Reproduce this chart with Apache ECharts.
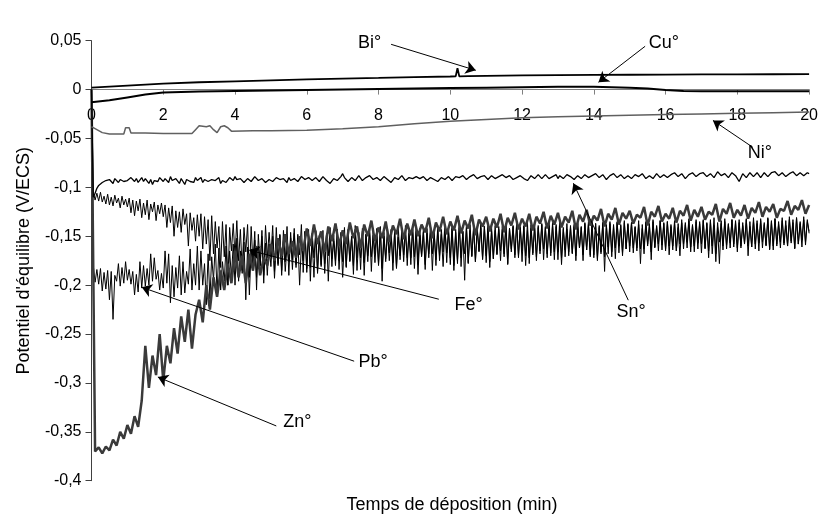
<!DOCTYPE html>
<html>
<head>
<meta charset="utf-8">
<script src="https://cdn.jsdelivr.net/npm/echarts@6/dist/echarts.min.js"></script>
<style>html,body{margin:0;padding:0;background:#fff}#c{width:821px;height:522px}</style>
</head>
<body>
<div id="c"></div>
<script>
// ---- X tick labels (min) ----
const xTicks = [0, 2, 4, 6, 8, 10, 12, 14, 16, 18, 20];

// ---- Smooth traces (time in min, potential in V/ECS) ----
const biTime = [0, 0.5, 1, 2, 3, 4, 5, 6, 7, 8, 9, 10, 10.15, 10.2, 10.25, 10.5, 11, 12, 13, 14, 15, 16, 17, 18, 19, 20];
const biValue = [0.002, 0.003, 0.004, 0.006, 0.0075, 0.0085, 0.0095, 0.0105, 0.0113, 0.012, 0.0128, 0.0134, 0.0135, 0.022, 0.0136, 0.0138, 0.014, 0.0145, 0.0148, 0.015, 0.0152, 0.0154, 0.0155, 0.0156, 0.0157, 0.0158];

const cuTime = [0, 0.5, 1, 1.5, 2, 2.5, 3, 4, 5, 6, 7, 8, 9, 10, 11, 12, 13, 14, 15, 15.5, 16, 16.5, 17, 18, 19, 20];
const cuValue = [-0.013, -0.011, -0.008, -0.005, -0.003, -0.0025, -0.002, -0.0015, -0.001, -0.0005, 0, 0.0005, 0.001, 0.0015, 0.002, 0.0025, 0.003, 0.003, 0.002, 0.001, -0.0005, -0.0015, -0.0017, -0.0017, -0.0017, -0.0017];

const niTime = [0, 0.1, 0.3, 0.5, 0.9, 0.95, 1.05, 1.1, 1.5, 2, 2.8, 2.9, 3.0, 3.2, 3.3, 3.4, 3.5, 3.6, 3.7, 3.8, 3.9, 4.5, 5, 6, 7, 8, 9, 10, 11, 12, 13, 14, 15, 16, 17, 18, 19, 20];
const niValue = [-0.038, -0.04, -0.044, -0.0455, -0.0455, -0.039, -0.039, -0.0445, -0.0445, -0.045, -0.045, -0.041, -0.037, -0.038, -0.037, -0.041, -0.044, -0.038, -0.037, -0.039, -0.0425, -0.042, -0.042, -0.0415, -0.04, -0.038, -0.035, -0.0325, -0.0305, -0.0288, -0.0278, -0.027, -0.0262, -0.0256, -0.025, -0.0243, -0.0236, -0.023];

// ---- Noisy traces Sn, Fe, Pb: one reading every 0.05 min (20 per row = 1 min) ----
const snValue = [
 0, -0.110, -0.106, -0.101, -0.098, -0.097, -0.095, -0.096, -0.093, -0.095, -0.092, -0.094, -0.096, -0.091, -0.093, -0.095, -0.092, -0.090, -0.094, -0.092,
 -0.093, -0.095, -0.090, -0.092, -0.094, -0.091, -0.095, -0.093, -0.090, -0.094, -0.091, -0.093, -0.096, -0.092, -0.097, -0.093, -0.091, -0.094, -0.090, -0.092,
 -0.094, -0.091, -0.092, -0.095, -0.089, -0.093, -0.095, -0.091, -0.093, -0.096, -0.091, -0.094, -0.097, -0.092, -0.090, -0.094, -0.092, -0.095, -0.090, -0.093,
 -0.093, -0.090, -0.095, -0.092, -0.091, -0.094, -0.096, -0.092, -0.090, -0.093, -0.093, -0.090, -0.096, -0.093, -0.092, -0.095, -0.094, -0.090, -0.091, -0.093,
 -0.089, -0.092, -0.094, -0.091, -0.092, -0.095, -0.095, -0.091, -0.091, -0.094, -0.093, -0.089, -0.090, -0.093, -0.094, -0.091, -0.092, -0.095, -0.096, -0.092,
 -0.091, -0.094, -0.093, -0.090, -0.089, -0.092, -0.094, -0.091, -0.092, -0.095, -0.090, -0.093, -0.095, -0.091, -0.091, -0.094, -0.093, -0.089, -0.090, -0.092,
 -0.092, -0.090, -0.089, -0.093, -0.094, -0.090, -0.091, -0.094, -0.093, -0.089, -0.090, -0.093, -0.092, -0.096, -0.095, -0.091, -0.090, -0.093, -0.092, -0.089,
 -0.086, -0.090, -0.091, -0.094, -0.093, -0.090, -0.089, -0.093, -0.092, -0.088, -0.090, -0.093, -0.094, -0.090, -0.091, -0.088, -0.089, -0.092, -0.093, -0.090,
 -0.090, -0.093, -0.092, -0.089, -0.088, -0.092, -0.091, -0.095, -0.094, -0.090, -0.089, -0.092, -0.092, -0.088, -0.090, -0.093, -0.093, -0.090, -0.089, -0.091,
 -0.091, -0.089, -0.088, -0.091, -0.092, -0.089, -0.090, -0.093, -0.093, -0.090, -0.089, -0.092, -0.091, -0.094, -0.094, -0.090, -0.089, -0.092, -0.091, -0.089,
 -0.090, -0.093, -0.092, -0.089, -0.088, -0.090, -0.091, -0.088, -0.089, -0.092, -0.093, -0.089, -0.090, -0.087, -0.088, -0.091, -0.092, -0.089, -0.090, -0.088,
 -0.089, -0.092, -0.091, -0.088, -0.088, -0.091, -0.092, -0.089, -0.090, -0.087, -0.087, -0.090, -0.091, -0.088, -0.089, -0.092, -0.093, -0.090, -0.090, -0.088,
 -0.088, -0.091, -0.090, -0.093, -0.092, -0.088, -0.089, -0.091, -0.091, -0.087, -0.088, -0.091, -0.090, -0.087, -0.088, -0.091, -0.092, -0.089, -0.089, -0.087,
 -0.091, -0.088, -0.088, -0.091, -0.090, -0.087, -0.086, -0.089, -0.089, -0.092, -0.091, -0.088, -0.088, -0.091, -0.090, -0.087, -0.087, -0.090, -0.091, -0.088,
 -0.089, -0.086, -0.087, -0.090, -0.090, -0.087, -0.088, -0.092, -0.092, -0.088, -0.089, -0.086, -0.087, -0.090, -0.090, -0.087, -0.088, -0.091, -0.091, -0.088,
 -0.088, -0.091, -0.090, -0.087, -0.086, -0.089, -0.089, -0.086, -0.087, -0.091, -0.091, -0.088, -0.088, -0.091, -0.090, -0.086, -0.087, -0.090, -0.089, -0.087,
 -0.087, -0.090, -0.090, -0.087, -0.088, -0.085, -0.086, -0.089, -0.089, -0.086, -0.087, -0.091, -0.091, -0.087, -0.088, -0.085, -0.086, -0.089, -0.089, -0.086,
 -0.088, -0.085, -0.086, -0.089, -0.089, -0.086, -0.087, -0.090, -0.090, -0.084, -0.085, -0.088, -0.088, -0.086, -0.087, -0.090, -0.089, -0.085, -0.086, -0.088,
 -0.088, -0.094, -0.093, -0.086, -0.087, -0.090, -0.089, -0.085, -0.086, -0.089, -0.088, -0.085, -0.087, -0.090, -0.090, -0.085, -0.086, -0.089, -0.088, -0.085,
 -0.087, -0.084, -0.085, -0.088, -0.088, -0.085, -0.086, -0.089, -0.089, -0.086, -0.087, -0.084, -0.085, -0.088, -0.088, -0.085, -0.086, -0.088, -0.087, -0.085,
 -0.086];

const feValue = [
 0, -0.104, -0.113, -0.106, -0.114, -0.105, -0.115, -0.109, -0.117, -0.107, -0.118, -0.110, -0.119, -0.108, -0.116, -0.111, -0.121, -0.109, -0.118, -0.112,
 -0.120, -0.111, -0.126, -0.113, -0.129, -0.114, -0.124, -0.112, -0.131, -0.116, -0.128, -0.113, -0.133, -0.117, -0.125, -0.115, -0.134, -0.118, -0.127, -0.116,
 -0.130, -0.118, -0.141, -0.121, -0.136, -0.119, -0.150, -0.124, -0.141, -0.125, -0.146, -0.122, -0.138, -0.127, -0.160, -0.126, -0.144, -0.131, -0.155, -0.128,
 -0.150, -0.127, -0.163, -0.130, -0.158, -0.133, -0.175, -0.129, -0.168, -0.135, -0.162, -0.140, -0.182, -0.135, -0.171, -0.138, -0.200, -0.141, -0.165, -0.137,
 -0.170, -0.134, -0.175, -0.143, -0.185, -0.141, -0.166, -0.138, -0.192, -0.140, -0.178, -0.145, -0.205, -0.148, -0.180, -0.144, -0.190, -0.139, -0.172, -0.146,
 -0.171, -0.139, -0.186, -0.141, -0.178, -0.148, -0.185, -0.144, -0.176, -0.140, -0.190, -0.146, -0.174, -0.142, -0.182, -0.148, -0.169, -0.138, -0.187, -0.145,
 -0.183, -0.143, -0.196, -0.147, -0.172, -0.145, -0.186, -0.150, -0.179, -0.144, -0.188, -0.147, -0.170, -0.141, -0.181, -0.149, -0.175, -0.143, -0.184, -0.146,
 -0.176, -0.141, -0.182, -0.143, -0.175, -0.150, -0.189, -0.139, -0.172, -0.146, -0.184, -0.142, -0.177, -0.148, -0.170, -0.140, -0.186, -0.145, -0.168, -0.142,
 -0.178, -0.140, -0.183, -0.146, -0.176, -0.142, -0.167, -0.143, -0.185, -0.145, -0.182, -0.141, -0.174, -0.147, -0.169, -0.139, -0.180, -0.144, -0.172, -0.140,
 -0.171, -0.140, -0.179, -0.142, -0.170, -0.146, -0.184, -0.142, -0.172, -0.141, -0.168, -0.145, -0.180, -0.139, -0.175, -0.143, -0.166, -0.138, -0.177, -0.141,
 -0.172, -0.139, -0.180, -0.143, -0.178, -0.134, -0.181, -0.145, -0.195, -0.140, -0.177, -0.138, -0.170, -0.142, -0.176, -0.141, -0.165, -0.137, -0.174, -0.140,
 -0.170, -0.138, -0.176, -0.141, -0.173, -0.144, -0.168, -0.140, -0.165, -0.143, -0.171, -0.137, -0.178, -0.142, -0.163, -0.139, -0.169, -0.136, -0.172, -0.140,
 -0.165, -0.139, -0.170, -0.136, -0.178, -0.142, -0.169, -0.137, -0.175, -0.141, -0.168, -0.138, -0.163, -0.140, -0.172, -0.136, -0.167, -0.139, -0.174, -0.138,
 -0.166, -0.134, -0.172, -0.141, -0.171, -0.143, -0.166, -0.139, -0.167, -0.140, -0.170, -0.137, -0.162, -0.141, -0.175, -0.136, -0.164, -0.138, -0.169, -0.135,
 -0.169, -0.137, -0.173, -0.139, -0.166, -0.136, -0.186, -0.138, -0.168, -0.137, -0.171, -0.140, -0.162, -0.135, -0.167, -0.139, -0.170, -0.136, -0.163, -0.138,
 -0.160, -0.136, -0.162, -0.141, -0.165, -0.138, -0.163, -0.142, -0.168, -0.136, -0.160, -0.139, -0.166, -0.135, -0.162, -0.140, -0.158, -0.134, -0.164, -0.137,
 -0.163, -0.135, -0.160, -0.140, -0.164, -0.137, -0.165, -0.141, -0.170, -0.136, -0.158, -0.138, -0.162, -0.134, -0.166, -0.139, -0.160, -0.135, -0.163, -0.137,
 -0.158, -0.134, -0.162, -0.136, -0.165, -0.133, -0.168, -0.139, -0.176, -0.141, -0.178, -0.137, -0.160, -0.135, -0.163, -0.138, -0.157, -0.133, -0.161, -0.136,
 -0.162, -0.136, -0.160, -0.139, -0.158, -0.133, -0.160, -0.140, -0.161, -0.135, -0.163, -0.137, -0.157, -0.134, -0.162, -0.138, -0.159, -0.132, -0.164, -0.135,
 -0.160, -0.132, -0.158, -0.138, -0.162, -0.134, -0.159, -0.139, -0.160, -0.133, -0.157, -0.136, -0.163, -0.131, -0.158, -0.137, -0.161, -0.133, -0.156, -0.135,
 -0.145];

const pbValue = [
 0, -0.180, -0.197, -0.184, -0.199, -0.183, -0.206, -0.187, -0.204, -0.185, -0.215, -0.186, -0.235, -0.190, -0.196, -0.178, -0.201, -0.182, -0.198, -0.176,
 -0.195, -0.184, -0.199, -0.186, -0.210, -0.189, -0.207, -0.176, -0.203, -0.180, -0.201, -0.183, -0.200, -0.168, -0.196, -0.172, -0.194, -0.185, -0.205, -0.188,
 -0.203, -0.165, -0.198, -0.168, -0.218, -0.180, -0.212, -0.182, -0.203, -0.170, -0.210, -0.176, -0.208, -0.186, -0.199, -0.163, -0.205, -0.178, -0.200, -0.160,
 -0.205, -0.165, -0.200, -0.178, -0.220, -0.168, -0.214, -0.171, -0.195, -0.158, -0.209, -0.162, -0.205, -0.176, -0.196, -0.160, -0.200, -0.165, -0.192, -0.158,
 -0.200, -0.152, -0.196, -0.165, -0.188, -0.156, -0.215, -0.161, -0.210, -0.163, -0.185, -0.154, -0.192, -0.160, -0.181, -0.150, -0.198, -0.157, -0.190, -0.158,
 -0.181, -0.150, -0.193, -0.158, -0.180, -0.149, -0.190, -0.154, -0.186, -0.160, -0.176, -0.152, -0.184, -0.147, -0.179, -0.152, -0.200, -0.158, -0.175, -0.145,
 -0.187, -0.150, -0.182, -0.155, -0.192, -0.144, -0.188, -0.149, -0.181, -0.153, -0.178, -0.148, -0.196, -0.150, -0.173, -0.155, -0.180, -0.143, -0.175, -0.148,
 -0.192, -0.152, -0.181, -0.146, -0.176, -0.150, -0.180, -0.143, -0.185, -0.151, -0.172, -0.144, -0.190, -0.148, -0.176, -0.146, -0.171, -0.149, -0.177, -0.150,
 -0.180, -0.143, -0.196, -0.150, -0.173, -0.146, -0.175, -0.148, -0.177, -0.144, -0.183, -0.151, -0.170, -0.142, -0.176, -0.145, -0.172, -0.147, -0.179, -0.143,
 -0.183, -0.145, -0.189, -0.149, -0.171, -0.143, -0.179, -0.147, -0.168, -0.141, -0.185, -0.146, -0.174, -0.144, -0.170, -0.148, -0.181, -0.142, -0.167, -0.146,
 -0.179, -0.142, -0.185, -0.146, -0.175, -0.141, -0.172, -0.145, -0.168, -0.140, -0.178, -0.144, -0.171, -0.139, -0.176, -0.143, -0.166, -0.141, -0.173, -0.140,
 -0.177, -0.141, -0.182, -0.145, -0.173, -0.139, -0.169, -0.143, -0.175, -0.140, -0.168, -0.138, -0.179, -0.142, -0.166, -0.140, -0.172, -0.137, -0.170, -0.141,
 -0.176, -0.140, -0.180, -0.144, -0.172, -0.138, -0.167, -0.142, -0.171, -0.139, -0.165, -0.137, -0.174, -0.141, -0.168, -0.139, -0.170, -0.136, -0.166, -0.140,
 -0.174, -0.139, -0.179, -0.143, -0.164, -0.137, -0.170, -0.141, -0.168, -0.138, -0.175, -0.136, -0.162, -0.140, -0.169, -0.137, -0.164, -0.135, -0.171, -0.139,
 -0.172, -0.137, -0.175, -0.141, -0.168, -0.136, -0.171, -0.139, -0.161, -0.135, -0.166, -0.138, -0.173, -0.136, -0.160, -0.138, -0.167, -0.134, -0.163, -0.137,
 -0.166, -0.136, -0.167, -0.140, -0.162, -0.134, -0.178, -0.138, -0.163, -0.135, -0.158, -0.137, -0.174, -0.133, -0.161, -0.139, -0.165, -0.134, -0.159, -0.136,
 -0.165, -0.135, -0.169, -0.138, -0.160, -0.134, -0.165, -0.137, -0.158, -0.133, -0.163, -0.136, -0.156, -0.132, -0.161, -0.138, -0.166, -0.133, -0.157, -0.135,
 -0.167, -0.133, -0.163, -0.137, -0.172, -0.135, -0.160, -0.131, -0.168, -0.136, -0.156, -0.134, -0.164, -0.132, -0.159, -0.137, -0.162, -0.133, -0.158, -0.134,
 -0.166, -0.133, -0.162, -0.136, -0.157, -0.132, -0.170, -0.135, -0.161, -0.131, -0.158, -0.134, -0.165, -0.132, -0.156, -0.136, -0.160, -0.131, -0.163, -0.134,
 -0.164, -0.132, -0.160, -0.135, -0.156, -0.131, -0.157, -0.134, -0.160, -0.130, -0.155, -0.133, -0.162, -0.131, -0.158, -0.135, -0.154, -0.130, -0.159, -0.133,
 -0.147];

// ---- Noisy trace Zn: one reading every 0.1 min (10 per row = 1 min) ----
const znValue = [
 0, -0.370, -0.366, -0.372, -0.365, -0.369, -0.358, -0.364, -0.350, -0.357,
 -0.343, -0.352, -0.334, -0.345, -0.318, -0.262, -0.305, -0.272, -0.292, -0.250,
 -0.298, -0.262, -0.280, -0.244, -0.270, -0.232, -0.258, -0.225, -0.265, -0.230,
 -0.215, -0.238, -0.200, -0.225, -0.192, -0.212, -0.185, -0.205, -0.178, -0.198,
 -0.165, -0.192, -0.170, -0.198, -0.168, -0.185, -0.160, -0.190, -0.172, -0.180,
 -0.158, -0.175, -0.152, -0.170, -0.148, -0.168, -0.155, -0.172, -0.150, -0.165,
 -0.142, -0.160, -0.138, -0.158, -0.145, -0.166, -0.140, -0.155, -0.137, -0.160,
 -0.144, -0.158, -0.136, -0.152, -0.140, -0.162, -0.138, -0.150, -0.134, -0.155,
 -0.141, -0.152, -0.135, -0.156, -0.139, -0.148, -0.132, -0.153, -0.137, -0.149,
 -0.133, -0.150, -0.138, -0.146, -0.131, -0.152, -0.136, -0.145, -0.130, -0.148,
 -0.135, -0.144, -0.129, -0.147, -0.134, -0.142, -0.128, -0.149, -0.133, -0.140,
 -0.130, -0.145, -0.132, -0.141, -0.127, -0.146, -0.131, -0.139, -0.126, -0.143,
 -0.132, -0.140, -0.127, -0.144, -0.130, -0.137, -0.125, -0.142, -0.129, -0.138,
 -0.126, -0.141, -0.130, -0.136, -0.124, -0.143, -0.128, -0.135, -0.123, -0.139,
 -0.129, -0.134, -0.122, -0.140, -0.127, -0.133, -0.121, -0.138, -0.126, -0.132,
 -0.124, -0.137, -0.128, -0.131, -0.120, -0.139, -0.125, -0.130, -0.119, -0.135,
 -0.127, -0.132, -0.121, -0.136, -0.124, -0.129, -0.118, -0.134, -0.123, -0.130,
 -0.120, -0.133, -0.125, -0.128, -0.117, -0.135, -0.122, -0.127, -0.116, -0.131,
 -0.123, -0.129, -0.118, -0.132, -0.121, -0.126, -0.115, -0.130, -0.120, -0.125,
 -0.117, -0.131, -0.122, -0.124, -0.114, -0.128, -0.119, -0.123, -0.113, -0.127,
 -0.118];

// ---- Annotation labels and arrows (data coordinates: [min, V]) ----
const labelNames = ['Bi°', 'Cu°', 'Ni°', 'Sn°', 'Fe°', 'Pb°', 'Zn°'];
const labelAt   = [[7.75, 0.048], [15.95, 0.048], [18.63, -0.0653], [15.04, -0.228], [10.51, -0.2205], [7.85, -0.279], [5.74, -0.340]];
const arrowFrom = [[8.35, 0.0463], [15.43, 0.0443], [18.43, -0.059], [14.96, -0.2154], [9.68, -0.2144], [7.32, -0.2778], [5.15, -0.344]];
const arrowTo   = [[10.71, 0.0197], [14.13, 0.0075], [17.32, -0.0315], [13.43, -0.0958], [4.40, -0.1643], [1.40, -0.2022], [1.85, -0.294]];

// sampling grids (reading index -> minutes)
const grid05 = snValue.map((_, i) => i / 20);
const grid10 = znValue.map((_, i) => i / 10);
const pairs = (t, v) => t.map((x, i) => [x, v[i]]);

const FONT = 'Liberation Sans, Arial, sans-serif';
const Y_MIN = -0.4, Y_MAX = 0.05;
const GRID_TOP = 40.7, GRID_BOTTOM = 41.3, CHART_H = 522;
// distance from the plot bottom up to the V = 0 line (x axis drawn there, as in the source)
const plotH = CHART_H - GRID_TOP - GRID_BOTTOM;
const zeroOffset = -plotH * (0 - Y_MIN) / (Y_MAX - Y_MIN);

function annot(idx) {
  return {
    markLine: {
      silent: true, animation: false,
      symbol: ['none', 'arrow'], symbolSize: 10,
      label: { show: false },
      lineStyle: { color: '#000', width: 1, type: 'solid' },
      emphasis: { disabled: true },
      data: [[{ coord: arrowFrom[idx] }, { coord: arrowTo[idx] }]]
    },
    markPoint: {
      silent: true, animation: false,
      symbol: 'circle', symbolSize: 1,
      itemStyle: { color: 'rgba(0,0,0,0)' },
      label: { show: true, position: 'inside', color: '#000', fontSize: 18, fontFamily: FONT, formatter: labelNames[idx] },
      data: [{ coord: labelAt[idx] }]
    }
  };
}

function line(name, data, color, width, idx, z) {
  return Object.assign({
    name: name, type: 'line', data: data, showSymbol: false, symbol: 'none',
    animation: false, silent: true, z: z, sampling: null,
    lineStyle: { color: color, width: width },
    emphasis: { disabled: true }
  }, annot(idx));
}

const chart = echarts.init(document.getElementById('c'), null, { renderer: 'canvas' });
chart.setOption({
  backgroundColor: '#fff',
  animation: false,
  textStyle: { fontFamily: FONT },
  title: {
    text: 'Temps de déposition (min)',
    left: 447, top: 491, textAlign: 'center',
    textStyle: { color: '#000', fontSize: 18, fontWeight: 'normal', fontFamily: FONT }
  },
  grid: { left: 91.5, right: 9.5, top: GRID_TOP, bottom: GRID_BOTTOM, containLabel: false },
  xAxis: {
    type: 'value', min: xTicks[0], max: xTicks[xTicks.length - 1], interval: 2,
    position: 'bottom', offset: zeroOffset,
    axisLine: { onZero: false, lineStyle: { color: '#808080', width: 1 } },
    axisTick: { show: true, length: 5, lineStyle: { color: '#808080' } },
    axisLabel: { color: '#000', fontSize: 16, fontFamily: FONT, margin: 18, formatter: v => String(v) },
    splitLine: { show: false }
  },
  yAxis: {
    type: 'value', min: Y_MIN, max: Y_MAX, interval: 0.05,
    axisLine: { show: true, onZero: false, lineStyle: { color: '#404040', width: 1 } },
    axisTick: { show: true, length: 6, lineStyle: { color: '#404040' } },
    axisLabel: { color: '#000', fontSize: 16, fontFamily: FONT, margin: 10,
      formatter: v => String(Math.round(v * 100) / 100).replace('.', ',') },
    splitLine: { show: false },
    name: "Potentiel d'équilibre (V/ECS)", nameLocation: 'middle', nameGap: 58,
    nameTextStyle: { color: '#000', fontSize: 18, fontFamily: FONT }
  },
  series: [
    line('Fe°', pairs(grid05, feValue), '#000', 1, 4, 2),
    line('Pb°', pairs(grid05, pbValue), '#000', 1, 5, 3),
    line('Zn°', pairs(grid10, znValue), '#3a3a3a', 2.5, 6, 4),
    line('Sn°', pairs(grid05, snValue), '#000', 1.3, 3, 5),
    line('Ni°', pairs(niTime, niValue), '#606060', 1.5, 2, 6),
    line('Cu°', pairs(cuTime, cuValue), '#000', 2, 1, 7),
    line('Bi°', pairs(biTime, biValue), '#000', 1.8, 0, 8)
  ]
});
</script>
</body>
</html>
